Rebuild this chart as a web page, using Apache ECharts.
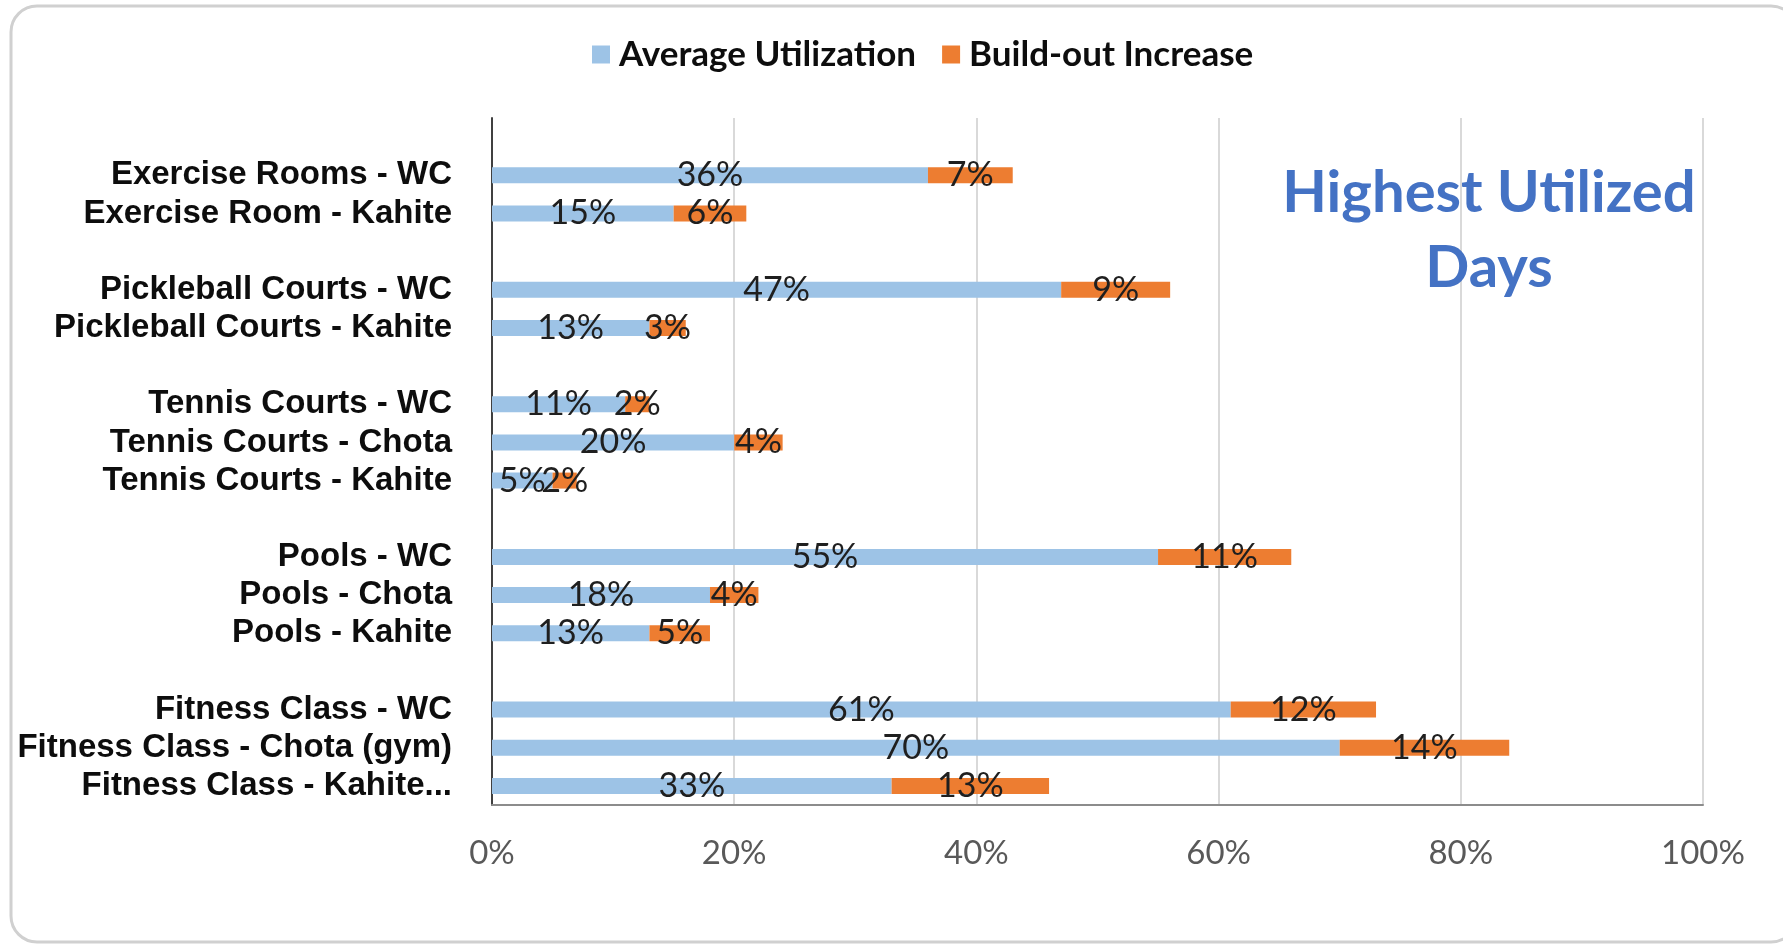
<!DOCTYPE html>
<html>
<head>
<meta charset="utf-8">
<script src="https://cdn.jsdelivr.net/npm/echarts@6/dist/echarts.min.js"></script>
<style>
html,body{margin:0;padding:0;background:#fff;}
#chart{width:1783px;height:944px;}
</style>
</head>
<body>
<div id="chart"></div>
<script>
// Categories (blank strings are spacer rows between facility groups)
var categories = [
  '', 'Exercise Rooms - WC', 'Exercise Room - Kahite',
  ' ', 'Pickleball Courts - WC', 'Pickleball Courts - Kahite',
  '  ', 'Tennis Courts - WC', 'Tennis Courts - Chota', 'Tennis Courts - Kahite',
  '   ', 'Pools - WC', 'Pools - Chota', 'Pools - Kahite',
  '    ', 'Fitness Class - WC', 'Fitness Class - Chota (gym)', 'Fitness Class - Kahite...'
];
var averageUtilization = [null, 36, 15, null, 47, 13, null, 11, 20, 5, null, 55, 18, 13, null, 61, 70, 33];
var buildOutIncrease   = [null, 7, 6, null, 9, 3, null, 2, 4, 2, null, 11, 4, 5, null, 12, 14, 13];
var xTicks = [0, 20, 40, 60, 80, 100];
var seriesNames = ['Average Utilization', 'Build-out Increase'];
var titleText = 'Highest Utilized\nDays';

var chart = echarts.init(document.getElementById('chart'), null, {renderer: 'canvas'});

function pctLabel(p) {
  return (p.value === null || p.value === undefined) ? '' : p.value + '%';
}

var labelStyle = {
  show: true,
  position: 'inside',
  formatter: pctLabel,
  color: '#1f1f1f',
  fontFamily: 'Lato',
  fontSize: 34
};

chart.setOption({
  backgroundColor: '#ffffff',
  animation: false,
  title: {
    text: titleText,
    left: 1484,
    top: 151,
    textAlign: 'center',
    textStyle: {
      color: '#4472C4',
      fontFamily: 'Lato',
      fontWeight: 'bold',
      fontSize: 58,
      lineHeight: 75
    }
  },
  legend: {
    data: seriesNames,
    left: 587,
    top: 32,
    icon: 'rect',
    itemWidth: 18,
    itemHeight: 18,
    itemGap: 26,
    textStyle: {
      color: '#0d0d0d',
      fontFamily: 'Lato',
      fontWeight: 'bold',
      fontSize: 35,
      padding: [0, 0, 0, 4]
    }
  },
  grid: {
    left: 492,
    right: 80,
    top: 118,
    bottom: 139,
    containLabel: false
  },
  xAxis: {
    type: 'value',
    min: xTicks[0],
    max: xTicks[xTicks.length - 1],
    interval: xTicks[1] - xTicks[0],
    axisLine: {show: true, lineStyle: {color: '#8c8c8c', width: 2}},
    axisTick: {show: false},
    splitLine: {show: true, lineStyle: {color: '#d9d9d9', width: 2}},
    axisLabel: {
      formatter: '{value}%',
      color: '#595959',
      fontFamily: 'Lato',
      fontSize: 33,
      margin: 32
    }
  },
  yAxis: {
    type: 'category',
    data: categories,
    inverse: true,
    axisLine: {show: true, lineStyle: {color: '#404040', width: 2}},
    axisTick: {show: false},
    splitLine: {show: false},
    axisLabel: {
      color: '#0d0d0d',
      fontFamily: 'Liberation Sans',
      fontWeight: 'bold',
      fontSize: 33,
      margin: 40,
      interval: 0
    }
  },
  series: [
    {
      name: seriesNames[0],
      type: 'bar',
      stack: 'total',
      data: averageUtilization,
      barWidth: 16,
      itemStyle: {color: '#9DC3E6'},
      label: labelStyle
    },
    {
      name: seriesNames[1],
      type: 'bar',
      stack: 'total',
      data: buildOutIncrease,
      barWidth: 16,
      itemStyle: {color: '#ED7D31'},
      label: labelStyle
    }
  ],
  graphic: [
    {
      type: 'rect',
      silent: true,
      z: -1,
      shape: {x: 11, y: 6, width: 1786, height: 936, r: 26},
      style: {fill: 'none', stroke: '#d0d0d0', lineWidth: 3}
    }
  ]
});
</script>
</body>
</html>
